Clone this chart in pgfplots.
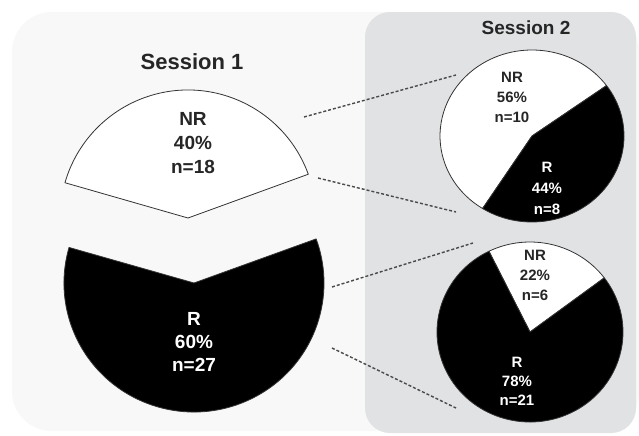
\documentclass[border=0pt]{standalone}
\usepackage{pgfplots}
\pgfplotsset{compat=1.18}
\usepackage{fontspec}
\setmainfont{Liberation Sans}

\definecolor{bgout}{HTML}{F8F8F8}
\definecolor{panel}{HTML}{E0E2E4}
\definecolor{edge}{HTML}{333333}
\definecolor{txt}{HTML}{262626}
\definecolor{dashc}{HTML}{4A4A4A}

% one pie slice: cx, cy, x radius, y radius, start angle, percent, fill
\newcommand{\slice}[7]{%
  \filldraw[fill=#7, draw=edge, line width=0.8pt, line join=round]
    (axis cs:#1,#2) -- ++(#5:#3pt and #4pt)
    arc[start angle=#5, delta angle={3.6*#6}, x radius=#3pt, y radius=#4pt] -- cycle;
}

\begin{document}
\begin{tikzpicture}
\begin{axis}[
  scale only axis, width=639pt, height=433pt,
  xmin=0, xmax=639, ymin=0, ymax=433, y dir=reverse,
  hide axis, clip=false
]
  % backgrounds
  \fill[white] (axis cs:0,0) rectangle (axis cs:639,433);
  \fill[bgout, rounded corners=40pt] (axis cs:12,12) rectangle (axis cs:639,431);
  \fill[panel, rounded corners=25pt] (axis cs:365,12) rectangle (axis cs:636,433);

  % dashed connectors
  \begin{scope}[draw=dashc, line width=1.4pt, dash pattern=on 3pt off 2pt]
    \draw (axis cs:304,117) -- (axis cs:456,75);
    \draw (axis cs:318,178) -- (axis cs:456,212);
    \draw (axis cs:332,287) -- (axis cs:473,243);
    \draw (axis cs:332,348) -- (axis cs:456,408);
  \end{scope}

  % Session 1 (exploded): NR 40%, R 60%
  \slice{188}{218}{128}{128}{20}{40}{white}
  \slice{194}{283}{130}{129}{164}{60}{black}

  % Session 2, NR group: NR 56%, R 44%
  \slice{532}{136}{92}{86}{35.9}{56}{white}
  \slice{532}{136}{92}{86}{237.5}{44}{black}

  % Session 2, R group: NR 22%, R 78%
  \slice{530}{332}{93}{90}{37}{22}{white}
  \slice{530}{332}{93}{90}{116.2}{78}{black}

  % titles
  \node[txt, font=\bfseries\fontsize{22}{26}\selectfont] at (axis cs:192,62) {Session 1};
  \node[txt, font=\bfseries\fontsize{19}{23}\selectfont] at (axis cs:526,28) {Session 2};

  % labels
  \node[txt, align=center, font=\bfseries\fontsize{19}{24}\selectfont] at (axis cs:193,143) {NR\\40\%\\n=18};
  \node[white, align=center, font=\bfseries\fontsize{19}{23}\selectfont] at (axis cs:194,342) {R\\60\%\\n=27};
  \node[txt, align=center, font=\bfseries\fontsize{15}{20}\selectfont] at (axis cs:512,97) {NR\\56\%\\n=10};
  \node[white, align=center, font=\bfseries\fontsize{15}{21}\selectfont] at (axis cs:547,188) {R\\44\%\\n=8};
  \node[txt, align=center, font=\bfseries\fontsize{15}{20}\selectfont] at (axis cs:535,275) {NR\\22\%\\n=6};
  \node[white, align=center, font=\bfseries\fontsize{15}{19}\selectfont] at (axis cs:517,381) {R\\78\%\\n=21};
\end{axis}
\end{tikzpicture}
\end{document}
